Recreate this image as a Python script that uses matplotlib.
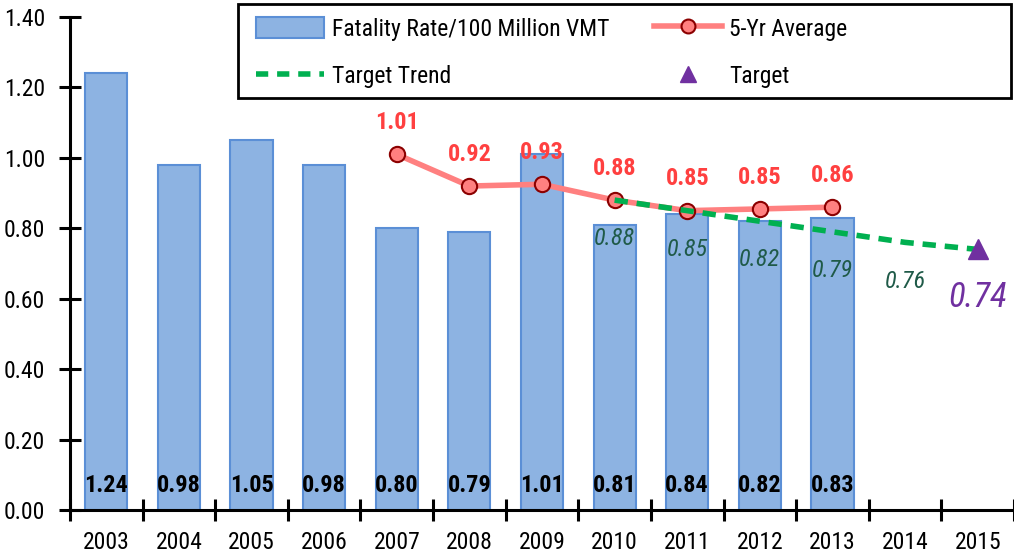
import matplotlib
matplotlib.use("Agg")
import matplotlib.pyplot as plt
from matplotlib.lines import Line2D
from matplotlib.patches import Patch, Rectangle
import numpy as np

years = ["2003", "2004", "2005", "2006", "2007", "2008", "2009", "2010", "2011", "2012", "2013", "2014", "2015"]
fatality_rate = [1.24, 0.98, 1.05, 0.98, 0.80, 0.79, 1.01, 0.81, 0.84, 0.82, 0.83]
avg_years = ["2007", "2008", "2009", "2010", "2011", "2012", "2013"]
avg_values = [1.01, 0.92, 0.925, 0.88, 0.85, 0.855, 0.86]
avg_labels = ["1.01", "0.92", "0.93", "0.88", "0.85", "0.85", "0.86"]
trend_years = ["2010", "2011", "2012", "2013", "2014", "2015"]
trend_values = [0.88, 0.85, 0.82, 0.79, 0.76, 0.74]
trend_labels = ["0.88", "0.85", "0.82", "0.79", "0.76"]
target_year = "2015"
target_value = 0.74
target_label = "0.74"

FONT = ["Roboto Condensed", "Liberation Sans Narrow", "Arial Narrow", "Roboto", "DejaVu Sans"]
plt.rcParams["font.family"] = FONT
FS = 17

W, H = 1014, 556
fig = plt.figure(figsize=(W / 100, H / 100), dpi=100)
ax = fig.add_axes([70 / W, 1 - 510 / H, 1 - 70 / W, (510 - 17) / H])

idx = {y: i for i, y in enumerate(years)}
x_bar = np.arange(len(fatality_rate))
ax.bar(x_bar, fatality_rate, width=0.58, color="#8DB3E2", edgecolor="#5B8FD6", linewidth=1.5, zorder=2)
for x, v in zip(x_bar, fatality_rate):
    ax.text(x, 0.07, f"{v:.2f}", ha="center", va="center", fontsize=FS + 0.5, fontweight="bold", color="black", zorder=5)

xa = [idx[y] for y in avg_years]
ax.plot(xa, avg_values, color="#FF8080", lw=4, marker="o", ms=11, mfc="#FF8080", mec="#8B0000", mew=1.5, zorder=4)
for x, v, l in zip(xa, avg_values, avg_labels):
    ax.text(x, v + 0.09, l, ha="center", va="center", fontsize=FS + 0.5, fontweight="bold", color="#FF4040", zorder=6)

xt = [idx[y] for y in trend_years]
ax.plot(xt, trend_values, color="#00B050", lw=4, ls=(0, (2.4, 1.6)), zorder=5)
for x, v, l in zip(xt, trend_values, trend_labels):
    ax.text(x, v - 0.11, l, ha="center", va="center", fontsize=FS + 0.5, fontstyle="italic", color="#1F5A48", zorder=6)

xg = idx[target_year]
ax.plot([xg], [target_value], marker="^", ms=14, color="#7030A0", ls="none", zorder=6)
ax.text(xg, target_value - 0.135, target_label, ha="center", va="center", fontsize=25, fontstyle="italic", color="#7030A0", zorder=6)

ax.set_xlim(-0.5, len(years) - 0.5)
ax.set_ylim(0, 1.40)
ax.set_yticks(np.arange(0, 1.41, 0.2))
ax.set_yticklabels([f"{v:.2f}" for v in np.arange(0, 1.41, 0.2)], fontsize=FS)
ax.set_xticks(np.arange(len(years)))
ax.set_xticklabels(years, fontsize=FS)
ax.set_xticks(np.arange(-0.5, len(years), 1), minor=True)
ax.tick_params(axis="x", which="major", length=0, pad=15)
ax.tick_params(axis="x", which="minor", direction="inout", length=16, width=2.2)
ax.tick_params(axis="y", direction="inout", length=16, width=2.2, pad=10)
for s in ["top", "right"]:
    ax.spines[s].set_visible(False)
for s in ["left", "bottom"]:
    ax.spines[s].set_linewidth(2.2)
ax.patch.set_visible(False)

frame = Rectangle((238 / W, 1 - 98 / H), (1011 - 238) / W, 94 / H, transform=fig.transFigure,
                  facecolor="white", edgecolor="black", linewidth=2, zorder=3)
fig.add_artist(frame)

handles = [
    Patch(facecolor="#8DB3E2", edgecolor="#5B8FD6", linewidth=1.5),
    Line2D([], [], color="#00B050", lw=4, ls=(0, (2.2, 1.6))),
    Line2D([], [], color="#FF8080", lw=4, marker="o", ms=10, mfc="#FF8080", mec="#8B0000", mew=1.5),
    Line2D([], [], color="#7030A0", marker="^", ms=12, ls="none"),
]
labels = ["Fatality Rate/100 Million VMT", "Target Trend", "5-Yr Average", "Target"]
leg = fig.legend(handles, labels, loc="upper left", ncol=2,
                 bbox_to_anchor=(256 / W, 1 - 17 / H),
                 fontsize=FS, frameon=False, borderaxespad=0, borderpad=0,
                 handlelength=2.9, handleheight=1.0, handletextpad=0.3, labelspacing=1.0, columnspacing=1.9)
leg.set_zorder(4)

fig.savefig("out.png", dpi=100)
